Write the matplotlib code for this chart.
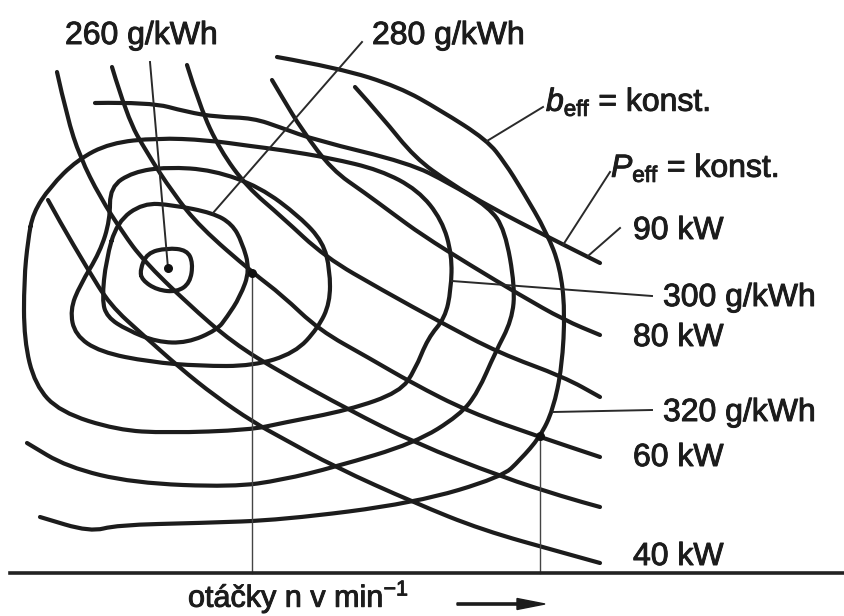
import numpy as np
import matplotlib
matplotlib.use("Agg")
import matplotlib.pyplot as plt
import matplotlib.patheffects as pe
from matplotlib.path import Path
from matplotlib.patches import PathPatch, FancyArrow

plt.rcParams['font.family'] = ['Liberation Sans', 'DejaVu Sans']
plt.rcParams['mathtext.fontset'] = 'custom'
plt.rcParams['mathtext.rm'] = 'Liberation Sans'
plt.rcParams['mathtext.it'] = 'Liberation Sans:italic'
plt.rcParams['mathtext.bf'] = 'Liberation Sans:bold'

W, H = 845, 616
INK = '#1c1c1c'

# lines of constant effective power (kW), traced in drawing units
p_90 = [(355, 87), (382, 117), (415, 158), (450, 183), (490, 207), (550, 238), (600, 263)]
p_80 = [(272, 80), (282, 97), (302, 130), (332, 170), (365, 193), (392, 213), (422, 235),
        (470, 265), (520, 295), (564, 320), (600, 335)]
p_70 = [(187, 65), (200, 107), (220, 150), (247, 187), (282, 217), (325, 257), (382, 290),
        (442, 323), (499, 353), (564, 377), (600, 397)]
p_60 = [(112, 67), (127, 117), (147, 153), (173, 193), (200, 227), (253, 273), (282, 295),
        (319, 330), (369, 358), (412, 383), (469, 412), (540, 437), (600, 457)]
p_50 = [(57, 72), (67, 117), (80, 157), (100, 197), (123, 233), (143, 260), (187, 303),
        (233, 343), (282, 373), (349, 410), (415, 443), (502, 477), (564, 497), (600, 507)]
p_40 = [(48, 200), (60, 222), (87, 268), (110, 305), (143, 335), (180, 368), (215, 396),
        (253, 422), (282, 438), (335, 467), (415, 503), (482, 530), (564, 553), (600, 563)]
power_lines = [p_90, p_80, p_70, p_60, p_50, p_40]

# lines of constant specific consumption b_eff (g/kWh)
b_260 = [(140, 270), (147, 253), (167, 248), (187, 250), (193, 263), (190, 283),
         (177, 292), (157, 290), (142, 280)]
b_280 = [(117, 222), (143, 203), (173, 205), (213, 213), (232, 224), (242, 242), (250, 270),
         (240, 297), (227, 317), (217, 330), (187, 343), (157, 342), (127, 330), (107, 317),
         (102, 300), (106, 260)]
b_290 = [(110, 187), (133, 172), (167, 167), (213, 170), (260, 187), (300, 217), (323, 242),
         (330, 270), (330, 303), (318, 328), (295, 353), (253, 366), (200, 366), (150, 362),
         (100, 352), (75, 335), (70, 310), (80, 285), (100, 252), (110, 220)]
b_300 = [(33, 213), (50, 187), (77, 160), (110, 143), (157, 138), (207, 140), (250, 146),
         (282, 150), (330, 158), (380, 170), (418, 190), (442, 220), (452, 255), (451, 290),
         (445, 318), (428, 338), (415, 370), (400, 392), (349, 410), (282, 423), (250, 430),
         (167, 433), (117, 430), (60, 412), (35, 385), (24, 340), (24, 280), (28, 240)]
b_310 = [(95, 103), (150, 102), (187, 112), (217, 117), (253, 118), (282, 128), (315, 140),
         (409, 163), (449, 183), (489, 207), (505, 230), (515, 287), (512, 320), (495, 353),
         (478, 392), (460, 415), (415, 443), (335, 467), (282, 480), (233, 487), (133, 483),
         (67, 467), (27, 443)]
b_320 = [(277, 57), (339, 68), (399, 87), (440, 110), (487, 140), (505, 163), (522, 190),
         (547, 233), (560, 267), (565, 310), (562, 367), (553, 410), (540, 437), (520, 460),
         (502, 477), (415, 503), (282, 520), (200, 523), (117, 525), (90, 532), (40, 517)]
closed_contours = [b_260, b_280, b_290, b_300]
open_contours = [b_310, b_320]

# thin leader lines and projection lines
leaders = [
    [(150, 62), (168, 268)],
    [(362, 42), (213, 213)],
    [(487, 141), (543, 107)],
    [(563, 245), (610, 172)],
    [(588, 256), (620, 228)],
    [(452, 281), (652, 296)],
    [(553, 412), (652, 410)],
]
drops = [[(252, 273), (252, 573)], [(540, 436), (540, 573)]]
dots = [(168, 268), (252, 273), (540, 436)]

labels = [
    (65, 36, "260 g/kWh"),
    (372, 36, "280 g/kWh"),
    (546, 102, r"$\mathit{b}_{\mathrm{eff}}$ = konst."),
    (611, 168, r"$\mathit{P}_{\mathrm{eff}}$ = konst."),
    (633, 231, "90 kW"),
    (663, 298, "300 g/kWh"),
    (633, 338, "80 kW"),
    (663, 413, "320 g/kWh"),
    (633, 458, "60 kW"),
    (633, 557, "40 kW"),
]
xlabel = r"otáčky n v min$^{-1}$"


def smooth_path(pts, closed=False):
    p = np.asarray(pts, dtype=float)
    if closed:
        nxt = np.roll(p, -1, axis=0)
        mids = (p + nxt) / 2
        verts = [mids[-1]]
        codes = [Path.MOVETO]
        for i in range(len(p)):
            verts += [p[i], mids[i]]
            codes += [Path.CURVE3, Path.CURVE3]
        return Path(verts, codes)
    verts = [p[0]]
    codes = [Path.MOVETO]
    for i in range(1, len(p) - 1):
        verts += [p[i], (p[i] + p[i + 1]) / 2]
        codes += [Path.CURVE3, Path.CURVE3]
    verts.append(p[-1])
    codes.append(Path.LINETO)
    return Path(verts, codes)


fig = plt.figure(figsize=(W / 100, H / 100), dpi=100)
ax = fig.add_axes([0, 0, 1, 1])
ax.set_xlim(0, W)
ax.set_ylim(H, 0)
ax.axis('off')

thick = dict(fill=False, lw=3.0, edgecolor=INK, capstyle='round', joinstyle='round')
for line in power_lines:
    ax.add_patch(PathPatch(smooth_path(line), **thick))
for c in open_contours:
    ax.add_patch(PathPatch(smooth_path(c), **thick))
for c in closed_contours:
    ax.add_patch(PathPatch(smooth_path(c, closed=True), **thick))

for seg in leaders:
    xs, ys = zip(*seg)
    ax.plot(xs, ys, color='#2a2a2a', lw=1.4)
for seg in drops:
    xs, ys = zip(*seg)
    ax.plot(xs, ys, color='#444444', lw=1.0)
ax.scatter(*zip(*dots), s=30, color='#111111', zorder=5)

heavy = [pe.withStroke(linewidth=0.7, foreground=INK)]

# speed axis
ax.plot([10, W], [573, 573], color='#222222', lw=2.6)
ax.text(188, 607, xlabel, fontsize=22, ha='left', va='baseline', color=INK,
        path_effects=heavy)
ax.add_patch(FancyArrow(457, 604, 88, 0, width=2.2, head_width=11, head_length=28,
                        length_includes_head=True, color=INK))

for x, y, s in labels:
    ax.text(x, y, s, fontsize=23, ha='left', va='center', color=INK, path_effects=heavy)

fig.savefig("out.png", dpi=100)
